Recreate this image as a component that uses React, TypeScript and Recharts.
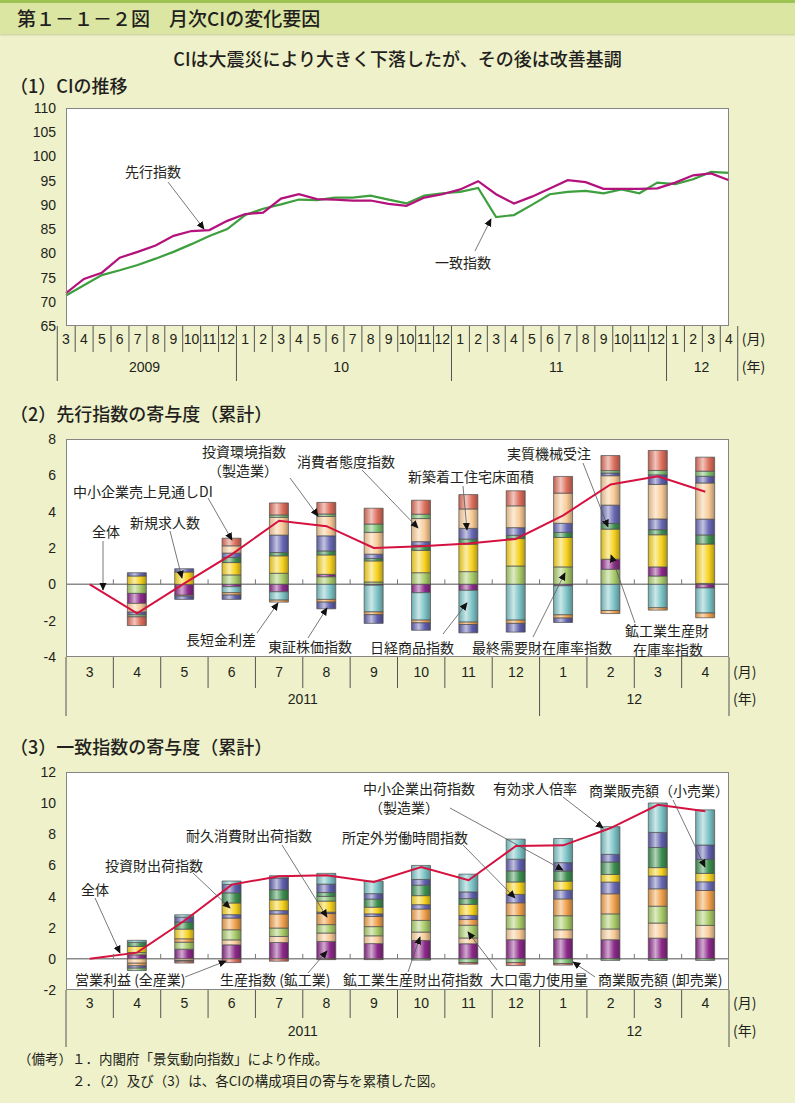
import React from 'react';
import { ComposedChart, LineChart, Line, Bar, XAxis, YAxis, CartesianGrid } from 'recharts';

// ---------------- data ----------------
// Panel 1: CI trend, 2009-3 .. 2012-4
const p1Months = [3, 4, 5, 6, 7, 8, 9, 10, 11, 12, 1, 2, 3, 4, 5, 6, 7, 8, 9, 10, 11, 12, 1, 2, 3, 4, 5, 6, 7, 8, 9, 10, 11, 12, 1, 2, 3, 4];
const p1Years = ['2009', '2009', '2009', '2009', '2009', '2009', '2009', '2009', '2009', '2009', '10', '10', '10', '10', '10', '10', '10', '10', '10', '10', '10', '10', '11', '11', '11', '11', '11', '11', '11', '11', '11', '11', '11', '11', '12', '12', '12', '12'];
const leading = [71.8, 74.7, 76.0, 79.1, 80.3, 81.6, 83.6, 84.6, 84.8, 86.7, 88.1, 88.4, 91.3, 92.2, 91.2, 91.1, 90.9, 90.9, 90.2, 89.8, 91.5, 92.2, 93.2, 94.9, 92.2, 90.3, 91.7, 93.4, 95.1, 94.7, 93.3, 93.3, 93.3, 93.4, 94.6, 96.1, 96.5, 95.1];
const coincident = [71.3, 73.4, 75.5, 76.5, 77.6, 78.9, 80.3, 81.9, 83.6, 85.0, 87.9, 89.2, 90.1, 91.1, 91.0, 91.5, 91.5, 91.9, 91.1, 90.3, 91.9, 92.4, 92.7, 93.5, 87.5, 87.9, 90.0, 92.2, 92.7, 92.9, 92.4, 93.2, 92.4, 94.6, 94.3, 95.3, 96.8, 96.6];
const p1Ticks = [65, 70, 75, 80, 85, 90, 95, 100, 105, 110];

// Panels 2 & 3: 2011-3 .. 2012-4
const pMonths = [3, 4, 5, 6, 7, 8, 9, 10, 11, 12, 1, 2, 3, 4];
const pYears = ['2011', '2011', '2011', '2011', '2011', '2011', '2011', '2011', '2011', '2011', '12', '12', '12', '12'];

// Panel 2: leading index contributions (cumulative)
const lFinalDemandInv = [0, -0.5, 0, 0.52, 0.61, 0.42, 0.13, 0.64, 0.7, 1.01, 0.96, 0.83, 0.46, 0.05];
const lProdGoodsInv = [0, -0.55, -0.6, -0.13, -0.41, 0.13, -0.05, -0.46, -0.33, 0, -0.08, 0.55, 0.5, -0.2];
const lNewJobs = [0, 0.46, 0.68, 0.68, 0.96, 1.07, 1.16, 1.23, 1.51, 1.51, 1.62, 1.66, 1.77, 2.17];
const lMachinery = [0, 0, 0, 0.28, 0.18, 0.22, 0.13, 0.28, 0.28, 0.18, 0.28, 0.31, 0.28, 0.5];
const lHousing = [0, 0.18, 0.18, 0.24, 0.96, 0.83, 0.24, 0.2, 0.59, 0.42, 0.5, 1.01, 0.59, 0.87];
const lNikkei = [0, 0, 0, -0.33, -0.46, -0.83, -1.47, -1.51, -1.75, -1.97, -1.6, -1.44, -1.29, -1.38];
const lSpread = [0, 0, -0.05, -0.13, -0.11, -0.15, -0.15, -0.15, -0.13, -0.18, -0.18, -0.17, -0.13, -0.26];
const lConsumer = [0, -0.48, 0, 0.4, 0.98, 1.07, 1.2, 1.27, 1.07, 1.2, 1.66, 1.62, 1.9, 1.99];
const lTopix = [0, -0.15, -0.18, -0.24, 0, -0.37, -0.48, -0.41, -0.46, -0.48, -0.24, 0.15, 0.53, 0.37];
const lInvestEnv = [0, -0.11, 0, 0, 0.13, 0.13, 0.46, 0.24, 0, 0, 0, 0.13, 0.24, 0.28];
const lSmeDI = [0, -0.48, 0, 0.42, 0.66, 0.64, 0.87, 0.77, 0.79, 0.83, 0.92, 0.83, 1.1, 0.77];
const lTotal = [0, -1.6, 0.05, 1.65, 3.5, 3.2, 2.0, 2.1, 2.25, 2.5, 3.8, 5.5, 5.95, 5.1];
const p2Ticks = [-4, -2, 0, 2, 4, 6, 8];

// Panel 3: coincident index contributions (cumulative)
const cProduction = [0, 0.26, 0.62, 0.9, 1.05, 1.12, 0.98, 1.18, 0.97, 1.23, 1.29, 1.23, 1.33, 1.33];
const cProdShip = [0, -0.28, -0.1, 0.32, 0.39, 0.54, 0.5, 0.54, 0.37, 0.69, 0.58, 0.69, 0.97, 0.82];
const cPower = [0, 0.15, 0.45, 0.65, 0.54, 0.54, 0.59, 0.75, 0.82, 0.86, 0.9, 0.97, 1.08, 0.97];
const cDurable = [0, -0.17, 0.22, 0.75, 0.9, 0.71, 0.65, 0.73, 0.37, 0.82, 1.08, 1.29, 1.12, 1.27];
const cOvertime = [0, -0.15, 0, 0.22, 0.22, 0.09, 0.17, 0.28, 0.26, 0.54, 0.56, 0.75, 0.82, 0.56];
const cInvestShip = [0, 0.39, 0.62, 0.75, 0.69, 0.71, 0.43, 0.58, 0.71, 0.8, 0.58, 0.49, 0.54, 0.54];
const cWholesale = [0, -0.15, -0.05, 0, 0, 0.3, 0, -0.08, -0.24, -0.24, -0.3, -0.1, -0.1, -0.1];
const cRetail = [0, 0.26, 0.45, 0.65, 0.65, 0.25, 0.52, 0.67, 0.37, 0.71, 0.65, 0.8, 1.29, 0.9];
const cSmeShip = [0, 0, 0.32, 0.54, 0.75, 0.54, 0.35, 0.37, 0.43, 0.75, 0.54, 0.49, 0.97, 0.92];
const cJobRatio = [0, 0.13, 0.15, 0.22, 0.15, 0.69, 0.8, 0.9, 1.14, 1.29, 1.55, 1.78, 1.89, 2.26];
const cProfit = [0, 0, -0.12, -0.24, -0.15, -0.05, -0.05, 0, -0.1, -0.19, -0.1, 0, 0, 0];
const cTotal = [0, 0.4, 2.45, 4.77, 5.3, 5.37, 4.94, 5.9, 5.05, 7.25, 7.29, 8.4, 9.89, 9.48];
const p3Ticks = [-2, 0, 2, 4, 6, 8, 10, 12];

// ---------------- styling ----------------
const W = 795;
const H = 1103;
const PL = 66;
const PR = 729;
const PW = PR - PL;
const PH = 218;
const NUM_FONT = "'Liberation Sans', Arial, sans-serif";
const JP_FONT = "'Noto Sans CJK JP', 'Noto Sans', sans-serif";
const BG = '#EEF1C9';
const TXT = '#231f20';

const COLORS: Record<string, string> = {
  purple: '#8C2A8A',
  lightgreen: '#A8CB68',
  yellow: '#F5D11E',
  dkgreen: '#3D8F4F',
  bluepurple: '#6868B4',
  cyan: '#7CC3C6',
  orange: '#EFA04B',
  peach: '#F7CA96',
  green: '#7BBE70',
  red: '#DD6E5B',
  blue: '#5F5FAC',
};

const hex = (h: string) => [parseInt(h.slice(1, 3), 16), parseInt(h.slice(3, 5), 16), parseInt(h.slice(5, 7), 16)];
const mix = (h: string, t: number[], a: number) => {
  const c = hex(h);
  const r = c.map((v, i) => Math.round(v * (1 - a) + t[i] * a));
  return `rgb(${r[0]},${r[1]},${r[2]})`;
};

const p2Series = [
  { key: 'finalDemandInv', data: lFinalDemandInv, color: 'lightgreen' },
  { key: 'prodGoodsInv', data: lProdGoodsInv, color: 'purple' },
  { key: 'newJobs', data: lNewJobs, color: 'yellow' },
  { key: 'machinery', data: lMachinery, color: 'dkgreen' },
  { key: 'housing', data: lHousing, color: 'bluepurple' },
  { key: 'nikkei', data: lNikkei, color: 'cyan' },
  { key: 'spread', data: lSpread, color: 'orange' },
  { key: 'consumer', data: lConsumer, color: 'peach' },
  { key: 'topix', data: lTopix, color: 'blue' },
  { key: 'investEnv', data: lInvestEnv, color: 'green' },
  { key: 'smeDI', data: lSmeDI, color: 'red' },
];

const p3Series = [
  { key: 'production', data: cProduction, color: 'purple' },
  { key: 'prodShip', data: cProdShip, color: 'peach' },
  { key: 'power', data: cPower, color: 'lightgreen' },
  { key: 'durable', data: cDurable, color: 'orange' },
  { key: 'overtime', data: cOvertime, color: 'bluepurple' },
  { key: 'investShip', data: cInvestShip, color: 'yellow' },
  { key: 'wholesale', data: cWholesale, color: 'green' },
  { key: 'retail', data: cRetail, color: 'dkgreen' },
  { key: 'smeShip', data: cSmeShip, color: 'blue' },
  { key: 'jobRatio', data: cJobRatio, color: 'cyan' },
  { key: 'profit', data: cProfit, color: 'red' },
];

const p1Data = p1Months.map((m, i) => ({ key: `${p1Years[i]}-${m}`, leading: leading[i], coincident: coincident[i] }));
const buildStack = (series: { key: string; data: number[] }[], total: number[]) =>
  pMonths.map((m, i) => {
    const row: Record<string, any> = { key: `${pYears[i]}-${m}`, total: total[i] };
    series.forEach((s) => {
      row[s.key] = s.data[i];
    });
    return row;
  });
const p2Data = buildStack(p2Series, lTotal);
const p3Data = buildStack(p3Series, cTotal);

// ---------------- axis table tick ----------------
type Geo = { bottom: number; mRow: number; mText: number; yText: number; tableEnd: number; zeroY?: number };
function makeTick(months: number[], years: string[], geo: Geo) {
  const n = months.length;
  const band = PW / n;
  return (props: any) => {
    const { x, payload } = props;
    const i: number = payload && typeof payload.index === 'number' ? payload.index : props.index;
    const xl = x - band / 2;
    const yearStart = i === 0 || years[i] !== years[i - 1];
    let count = 0;
    if (yearStart) {
      for (let j = i; j < n && years[j] === years[i]; j++) count++;
    }
    const last = i === n - 1;
    const xr = x + band / 2;
    const tStyle = { fontFamily: NUM_FONT, fontSize: 14, fill: TXT } as any;
    return (
      <g>
        <line x1={xl} x2={xl} y1={geo.bottom} y2={yearStart ? geo.tableEnd : geo.mRow} stroke="#555" strokeWidth={1} />
        {last && <line x1={xr} x2={xr} y1={geo.bottom} y2={geo.tableEnd} stroke="#555" strokeWidth={1} />}
        {geo.zeroY !== undefined && i > 0 && (
          <line x1={xl} x2={xl} y1={geo.zeroY - 5} y2={geo.zeroY} stroke="#777" strokeWidth={1} />
        )}
        <text x={x} y={geo.mText} dy={5} textAnchor="middle" style={tStyle}>
          {months[i]}
        </text>
        {yearStart && (
          <text x={x + ((count - 1) * band) / 2} y={geo.yText} dy={5} textAnchor="middle" style={tStyle}>
            {years[i]}
          </text>
        )}
        {last && (
          <text x={xr + 4} y={geo.mText} dy={5} textAnchor="start" style={{ ...tStyle, fontFamily: JP_FONT, fontSize: 14 }}>
            (月)
          </text>
        )}
        {last && (
          <text x={xr + 4} y={geo.yText} dy={5} textAnchor="start" style={{ ...tStyle, fontFamily: JP_FONT, fontSize: 14 }}>
            (年)
          </text>
        )}
      </g>
    );
  };
}

// ---------------- annotations ----------------
type Ann = { lines: string[]; x: number; y: number; dy?: number; ax?: number[] };
const annotations: Ann[] = [
  { lines: ['先行指数'], x: 125, y: 172, ax: [168, 182, 204, 229] },
  { lines: ['一致指数'], x: 435, y: 263, ax: [475, 251, 491, 219] },
  // panel 2
  { lines: ['投資環境指数', '（製造業）'], x: 202, y: 452, dy: 19, ax: [290, 478, 318, 516] },
  { lines: ['消費者態度指数'], x: 297, y: 462, ax: [362, 470, 418, 528] },
  { lines: ['新築着工住宅床面積'], x: 408, y: 477, ax: [463, 486, 467, 530] },
  { lines: ['実質機械受注'], x: 507, y: 454, ax: [583, 463, 608, 527] },
  { lines: ['中小企業売上見通しDI'], x: 73, y: 492, ax: [208, 498, 232, 540] },
  { lines: ['新規求人数'], x: 130, y: 523, ax: [170, 531, 182, 578] },
  { lines: ['全体'], x: 92, y: 532, ax: [103, 541, 103, 590] },
  { lines: ['長短金利差'], x: 186, y: 640, ax: [257, 633, 278, 603] },
  { lines: ['東証株価指数'], x: 268, y: 647, ax: [308, 638, 327, 608] },
  { lines: ['日経商品指数'], x: 370, y: 648, ax: [443, 634, 467, 603] },
  { lines: ['最終需要財在庫率指数'], x: 472, y: 648, ax: [533, 637, 565, 573] },
  { lines: ['鉱工業生産財', '在庫率指数'], x: 625, y: 631, dy: 19, ax: [635, 623, 611, 555] },
  // panel 3
  { lines: ['全体'], x: 81, y: 890, ax: [95, 898, 120, 953] },
  { lines: ['投資財出荷指数'], x: 105, y: 866, ax: [193, 873, 230, 908] },
  { lines: ['耐久消費財出荷指数'], x: 186, y: 836, ax: [282, 845, 327, 917] },
  { lines: ['所定外労働時間指数'], x: 342, y: 838, ax: [463, 845, 515, 898] },
  { lines: ['中小企業出荷指数', '（製造業）'], x: 363, y: 789, dy: 19, ax: [450, 808, 563, 870] },
  { lines: ['有効求人倍率'], x: 493, y: 789, ax: [563, 797, 603, 828] },
  { lines: ['商業販売額（小売業）'], x: 589, y: 791, ax: [673, 800, 705, 867] },
  { lines: ['営業利益 (全産業)'], x: 75, y: 980, ax: [185, 977, 226, 961] },
  { lines: ['生産指数 (鉱工業)'], x: 220, y: 980, ax: [308, 973, 327, 951] },
  { lines: ['鉱工業生産財出荷指数'], x: 343, y: 980, ax: [408, 972, 420, 937] },
  { lines: ['大口電力使用量'], x: 490, y: 980, ax: [497, 970, 468, 932] },
  { lines: ['商業販売額 (卸売業)'], x: 598, y: 980, ax: [595, 977, 573, 962] },
];

const PlotFrame = ({ top }: { top: number }) => (
  <div
    style={{
      position: 'absolute',
      left: PL,
      top,
      width: PW,
      height: PH,
      border: '1px solid #858585',
      boxSizing: 'border-box',
      pointerEvents: 'none',
      zIndex: 2,
    }}
  />
);

const textDiv = (content: string, left: number, centerY: number, size: number, extra: any = {}) => (
  <div
    style={{
      position: 'absolute',
      left,
      top: centerY - 12,
      height: 24,
      lineHeight: '24px',
      fontSize: size,
      fontFamily: JP_FONT,
      color: TXT,
      whiteSpace: 'nowrap',
      ...extra,
    }}
  >
    {content}
  </div>
);

export default function App() {
  // panel geometry (chart-local coordinates)
  const c1Top = 100;
  const m1 = 8;
  const g1: Geo = { bottom: m1 + PH, mRow: m1 + PH + 26, mText: 239, yText: 267, tableEnd: 281 };
  const c2Top = 430;
  const m2 = 9;
  const zero2 = m2 + PH - (4 / 12) * PH;
  const g2: Geo = { bottom: m2 + PH, mRow: m2 + PH + 31, mText: 242, yText: 269, tableEnd: 286, zeroY: zero2 };
  const c3Top = 762;
  const m3 = 10;
  const zero3 = m3 + PH - (2 / 14) * PH;
  const g3: Geo = { bottom: m3 + PH, mRow: m3 + PH + 28, mText: 241, yText: 269, tableEnd: 285, zeroY: zero3 };

  const yTick = { fontFamily: NUM_FONT, fontSize: 14, fill: TXT };

  return (
    <div style={{ position: 'absolute', left: 0, top: 0, width: W, height: H, background: BG, overflow: 'hidden' }}>
      <svg width={0} height={0} style={{ position: 'absolute' }}>
        <defs>
          {Object.keys(COLORS).map((k) => (
            <linearGradient key={k} id={`g-${k}`} x1="0" y1="0" x2="1" y2="0">
              <stop offset="0%" stopColor={mix(COLORS[k], [0, 0, 0], 0.12)} />
              <stop offset="38%" stopColor={mix(COLORS[k], [255, 255, 255], 0.6)} />
              <stop offset="70%" stopColor={COLORS[k]} />
              <stop offset="100%" stopColor={mix(COLORS[k], [0, 0, 0], 0.28)} />
            </linearGradient>
          ))}
        </defs>
      </svg>

      {/* header */}
      <div
        style={{
          position: 'absolute',
          left: 0,
          top: 0,
          width: W,
          height: 31,
          background: '#DCE6A3',
          borderTop: '3px solid #9DC452',
          boxShadow: '0 1px 2px rgba(120,130,60,0.35)',
        }}
      />
      {textDiv('第１－１－２図　月次CIの変化要因', 17, 18, 19, { fontWeight: 500 })}
      <div
        style={{
          position: 'absolute',
          left: 0,
          top: 46,
          width: W,
          textAlign: 'center',
          fontSize: 18,
          lineHeight: '24px',
          fontFamily: JP_FONT,
          fontWeight: 500,
          color: TXT,
        }}
      >
        CIは大震災により大きく下落したが、その後は改善基調
      </div>
      {textDiv('（1）CIの推移', 10, 85, 18, { fontWeight: 500 })}
      {textDiv('（2）先行指数の寄与度（累計）', 10, 413, 18, { fontWeight: 500 })}
      {textDiv('（3）一致指数の寄与度（累計）', 10, 746, 18, { fontWeight: 500 })}

      {/* panel 1 */}
      <div style={{ position: 'absolute', left: 0, top: c1Top }}>
        <LineChart width={W} height={m1 + PH + 60} data={p1Data} margin={{ top: m1, right: W - PR, bottom: 0, left: 0 }}>
          <CartesianGrid fill="#fff" horizontal={false} vertical={false} />
          <XAxis dataKey="key" interval={0} height={60} tickLine={false} axisLine={false} tick={makeTick(p1Months, p1Years, g1)} />
          <YAxis domain={[65, 110]} ticks={p1Ticks} interval={0} width={PL} tickLine={false} axisLine={false} tickMargin={4} tick={yTick} />
          <Line dataKey="coincident" stroke="#3E9F3E" strokeWidth={2.2} dot={false} isAnimationActive={false} />
          <Line dataKey="leading" stroke="#B3127D" strokeWidth={2.2} dot={false} isAnimationActive={false} />
        </LineChart>
      </div>
      <PlotFrame top={c1Top + m1} />

      {/* panel 2 */}
      <div style={{ position: 'absolute', left: 0, top: c2Top }}>
        <ComposedChart
          width={W}
          height={m2 + PH + 64}
          data={p2Data}
          stackOffset="sign"
          margin={{ top: m2, right: W - PR, bottom: 0, left: 0 }}
        >
          <CartesianGrid fill="#fff" vertical={false} horizontalValues={[0]} stroke="#8a8a8a" strokeWidth={1.5} />
          <XAxis dataKey="key" interval={0} height={64} tickLine={false} axisLine={false} tick={makeTick(pMonths, pYears, g2)} />
          <YAxis domain={[-4, 8]} ticks={p2Ticks} interval={0} width={PL} tickLine={false} axisLine={false} tickMargin={4} tick={yTick} />
          {p2Series.map((s) => (
            <Bar
              key={s.key}
              dataKey={s.key}
              stackId="a"
              barSize={19}
              fill={`url(#g-${s.color})`}
              stroke="#4d4d4d"
              strokeWidth={0.7}
              isAnimationActive={false}
            />
          ))}
          <Line dataKey="total" stroke="#D5123F" strokeWidth={2} dot={false} isAnimationActive={false} />
        </ComposedChart>
      </div>
      <PlotFrame top={c2Top + m2} />

      {/* panel 3 */}
      <div style={{ position: 'absolute', left: 0, top: c3Top }}>
        <ComposedChart
          width={W}
          height={m3 + PH + 60}
          data={p3Data}
          stackOffset="sign"
          margin={{ top: m3, right: W - PR, bottom: 0, left: 0 }}
        >
          <CartesianGrid fill="#fff" vertical={false} horizontalValues={[0]} stroke="#8a8a8a" strokeWidth={1.5} />
          <XAxis dataKey="key" interval={0} height={60} tickLine={false} axisLine={false} tick={makeTick(pMonths, pYears, g3)} />
          <YAxis domain={[-2, 12]} ticks={p3Ticks} interval={0} width={PL} tickLine={false} axisLine={false} tickMargin={4} tick={yTick} />
          {p3Series.map((s) => (
            <Bar
              key={s.key}
              dataKey={s.key}
              stackId="a"
              barSize={19}
              fill={`url(#g-${s.color})`}
              stroke="#4d4d4d"
              strokeWidth={0.7}
              isAnimationActive={false}
            />
          ))}
          <Line dataKey="total" stroke="#D5123F" strokeWidth={2} dot={false} isAnimationActive={false} />
        </ComposedChart>
      </div>
      <PlotFrame top={c3Top + m3} />

      {/* annotations */}
      <svg width={W} height={H} style={{ position: 'absolute', left: 0, top: 0, pointerEvents: 'none', zIndex: 3 }}>
        <defs>
          <marker id="ah" viewBox="0 0 10 10" refX="9" refY="5" markerWidth="8" markerHeight="8" orient="auto" markerUnits="userSpaceOnUse">
            <path d="M0,0.5 L10,5 L0,9.5 z" fill="#111" />
          </marker>
        </defs>
        {annotations.map((a, i) => (
          <g key={i}>
            {a.ax && (
              <line x1={a.ax[0]} y1={a.ax[1]} x2={a.ax[2]} y2={a.ax[3]} stroke="#555" strokeWidth={0.8} markerEnd="url(#ah)" />
            )}
            {a.lines.map((t, j) => (
              <text
                key={j}
                x={a.x + (j > 0 && t.startsWith('（') ? 6 : j > 0 ? 8 : 0)}
                y={a.y + j * (a.dy || 16)}
                dy={5}
                style={{ fontFamily: JP_FONT, fontSize: 14, fill: TXT }}
              >
                {t}
              </text>
            ))}
          </g>
        ))}
      </svg>

      {/* footer */}
      <div
        style={{
          position: 'absolute',
          left: 18,
          top: 1047,
          fontFamily: JP_FONT,
          fontSize: 13.5,
          lineHeight: '22px',
          color: TXT,
          whiteSpace: 'pre',
        }}
      >
        {'（備考）１．内閣府「景気動向指数」により作成。\n　　　　２．（2）及び（3）は、各CIの構成項目の寄与を累積した図。'}
      </div>
    </div>
  );
}
